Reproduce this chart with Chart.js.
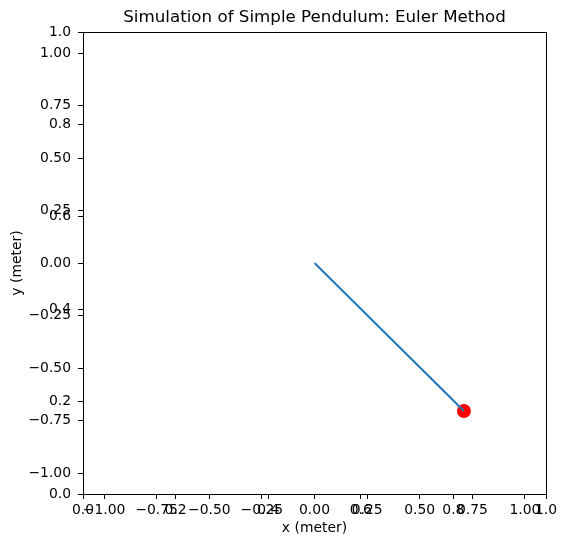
<!DOCTYPE html>
<html>
<head>
<meta charset="utf-8">
<script src="https://cdn.jsdelivr.net/npm/chart.js@4"></script>
<style>
  html, body { margin: 0; padding: 0; background: #fff; }
  canvas { display: block; }
</style>
</head>
<body>
<canvas id="pendulum" width="567" height="547"></canvas>
<script>
// ── Data ──────────────────────────────────────────────────────────────
const rodX = [0, 0.71];
const rodY = [0, -0.705];
const bobX = [0.71];
const bobY = [-0.705];

// main axes (-1.1 .. 1.1) and the overlapping 0..1 axes
const mainTicks  = [-1, -0.75, -0.5, -0.25, 0, 0.25, 0.5, 0.75, 1];
const mainLabels = ["\u22121.00", "\u22120.75", "\u22120.50", "\u22120.25", "0.00", "0.25", "0.50", "0.75", "1.00"];
const unitTicks  = [0, 0.2, 0.4, 0.6, 0.8, 1];
const unitLabels = ["0.0", "0.2", "0.4", "0.6", "0.8", "1.0"];

Chart.defaults.font.family = "'DejaVu Sans', sans-serif";
Chart.defaults.color = "#000";

const tickFont = { size: 13.9 };
const AREA_W = 567 - 83 - 21;                 // plot width in px
const LABEL_GAP = 12 * 2.2 / AREA_W;          // 12px expressed in x units

function tickGrid() {
	return { display: true, drawOnChartArea: false, drawTicks: true, tickLength: 5, tickColor: "#000", tickWidth: 1 };
}
function setTicks(values) {
	return (scale) => { scale.ticks = values.map(v => ({ value: v })); };
}

// ── Frame (matplotlib spines) ─────────────────────────────────────────
const framePlugin = {
	id: "frame",
	afterDraw(chart) {
		const a = chart.chartArea, ctx = chart.ctx;
		ctx.save();
		ctx.strokeStyle = "#000";
		ctx.lineWidth = 1;
		ctx.strokeRect(Math.round(a.left) + 0.5, Math.round(a.top) + 0.5,
			Math.round(a.right - a.left), Math.round(a.bottom - a.top));
		ctx.restore();
	},
};

new Chart(document.getElementById("pendulum"), {
	type: "scatter",
	data: {
		datasets: [
			{
				label: "rod",
				data: rodX.map((x, i) => ({ x: x, y: rodY[i] })),
				showLine: true,
				borderColor: "#1f77b4",
				borderWidth: 2,
				pointRadius: 0,
			},
			{
				label: "bob",
				data: bobX.map((x, i) => ({ x: x, y: bobY[i] })),
				pointRadius: 7,
				pointBackgroundColor: "#ff0000",
				pointBorderColor: "#ff0000",
				pointBorderWidth: 0,
			},
		],
	},
	options: {
		responsive: false,
		animation: false,
		layout: { padding: { top: 0, right: 21, bottom: 0, left: 0 } },
		plugins: {
			legend:  { display: false },
			tooltip: { enabled: false },
			title: {
				display: true,
				fullSize: false,
				text: "Simulation of Simple Pendulum: Euler Method",
				color: "#000",
				font: { size: 16.7, weight: "normal" },
				padding: { top: 8, bottom: 4 },
			},
		},
		scales: {
			x: {
				type: "linear",
				position: "bottom",
				min: -1.1,
				max: 1.1,
				afterBuildTicks: setTicks(mainTicks),
				afterFit: (s) => { s.height = 53; },
				ticks: {
					autoSkip: false, maxRotation: 0, padding: 3, font: tickFont,
					callback: (v, i) => mainLabels[i],
				},
				grid: tickGrid(),
				border: { display: true, color: "#000" },
				title: { display: true, text: "x (meter)", font: { size: 13.9 }, padding: { top: 0, bottom: 10 } },
			},
			y: {
				type: "linear",
				position: "left",
				min: -1.1,
				max: 1.1,
				afterBuildTicks: setTicks(mainTicks),
				afterFit: (s) => { s.width = 83; },
				ticks: {
					autoSkip: false, padding: 7, font: tickFont,
					callback: (v, i) => mainLabels[i],
				},
				grid: tickGrid(),
				border: { display: true, color: "#000" },
				title: { display: true, text: "y (meter)", font: { size: 13.9 }, padding: { top: 9, bottom: 0 } },
			},
			// second (0..1) axes laid over the first one
			x2: {
				type: "linear",
				position: { y: -1.1 },
				min: 0,
				max: 1,
				afterBuildTicks: setTicks(unitTicks),
				ticks: {
					autoSkip: false, maxRotation: 0, padding: 3, font: tickFont,
					callback: (v, i) => unitLabels[i],
				},
				grid: tickGrid(),
				border: { display: false },
			},
			y2: {
				type: "linear",
				position: { x: -1.1 },
				min: 0,
				max: 1,
				afterBuildTicks: setTicks(unitTicks),
				ticks: { display: false },
				grid: tickGrid(),
				border: { display: false },
			},
			y2labels: {
				type: "linear",
				axis: "y",
				position: { x: -1.1 - LABEL_GAP },
				min: 0,
				max: 1,
				afterBuildTicks: setTicks(unitTicks),
				ticks: {
					autoSkip: false, font: tickFont,
					callback: (v, i) => unitLabels[i],
				},
				grid: { display: false },
				border: { display: false },
			},
		},
	},
	plugins: [framePlugin],
});
</script>
</body>
</html>
